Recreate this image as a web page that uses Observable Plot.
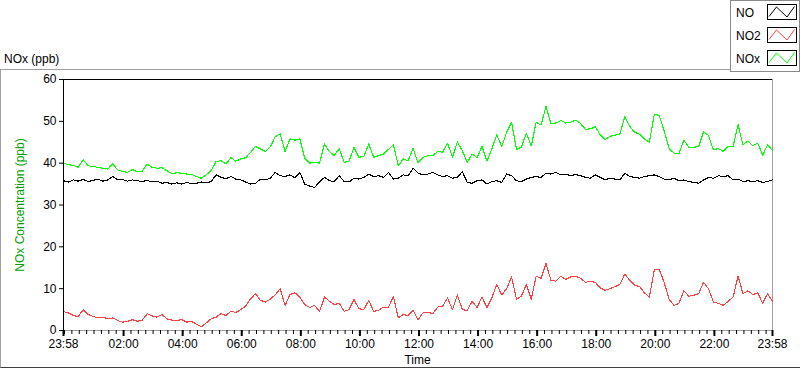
<!DOCTYPE html>
<html><head><meta charset="utf-8">
<script src="https://cdn.jsdelivr.net/npm/d3@7"></script>
<script src="https://cdn.jsdelivr.net/npm/@observablehq/plot@0.6"></script>
<style>
body{margin:0;background:#fff;font-family:"Liberation Sans",Arial,sans-serif;color:#000;}
#wrap{position:relative;width:800px;height:369px;overflow:hidden;background:#fff;}
#frame{position:absolute;left:0;top:69px;width:800px;height:299px;border-left:1px solid #a0a0a0;border-top:1px solid #a0a0a0;border-bottom:1px solid #404040;box-sizing:border-box;}
#chart{position:absolute;left:0;top:0;}
#title{position:absolute;left:4px;top:52px;font-size:12px;line-height:14px;}
#xlabel{position:absolute;left:0;width:835px;text-align:center;top:353px;font-size:12px;line-height:14px;}
#ylabel{position:absolute;left:20px;top:205px;font-size:12px;line-height:14px;color:#00a000;white-space:nowrap;transform:translate(-50%,-50%) rotate(-90deg);}
#legend{position:absolute;left:730px;top:0;width:70px;height:72px;border:1px solid #8a8a8a;background:#fff;box-sizing:border-box;}
.lrow{position:absolute;left:5px;font-size:12px;line-height:14px;}
.lsw{position:absolute;left:36px;}
</style></head>
<body>
<div id="wrap">
<div id="frame"></div>
<div id="chart"></div>
<div id="title">NOx (ppb)</div>
<div id="xlabel">Time</div>
<div id="ylabel">NOx Concentration (ppb)</div>
<div id="legend"></div>
</div>
<script>
// ---- data (10-minute readings starting 23:58) ----
const startTime = "2020-01-01T23:58:00Z";
const stepMinutes = 10;
const NO = [35.8,35.5,36.0,35.7,36.1,35.6,35.9,36.2,35.7,36.0,
36.8,36.0,36.1,35.7,36.0,35.8,35.6,35.9,35.5,35.7,
35.2,35.4,35.0,35.3,35.0,35.4,35.1,35.2,35.5,35.3,
35.6,37.2,36.6,36.3,36.8,36.2,36.0,35.5,35.0,35.2,
36.2,36.0,36.4,37.8,37.0,36.8,37.2,36.5,37.8,35.0,
34.5,34.2,35.5,36.6,35.8,35.6,37.0,35.6,35.5,36.4,
36.2,36.6,37.4,36.8,37.0,36.6,37.8,36.2,36.4,37.2,
37.0,38.8,37.6,37.2,37.4,37.8,37.2,36.8,37.0,36.4,
36.6,38.0,35.4,35.2,35.8,36.0,35.0,35.6,35.8,35.4,
37.4,37.0,35.8,35.6,36.2,36.6,36.8,36.6,37.6,37.4,
37.8,37.2,37.4,37.0,37.3,37.0,36.6,36.4,37.2,36.6,
36.0,36.4,36.2,36.0,37.6,36.8,36.6,36.4,36.8,37.0,
37.2,36.8,36.2,36.0,36.4,35.8,36.0,35.6,35.4,35.2,
36.0,36.6,36.4,37.0,36.8,37.0,36.0,36.2,35.6,35.8,
35.6,35.8,35.4,35.6,36.0];
const NO2 = [4.5,4.2,3.6,3.3,5.0,3.8,3.4,3.0,3.2,2.8,
3.0,2.4,2.0,2.2,2.6,2.2,2.5,4.0,3.5,3.2,
3.8,2.8,2.5,2.4,2.6,2.0,2.2,1.5,0.9,1.8,
2.8,3.2,4.0,3.6,4.6,4.3,5.0,5.8,7.6,8.8,
7.2,6.8,7.5,8.5,10.0,6.0,8.6,9.0,8.0,6.2,
5.5,6.0,4.5,8.0,7.0,6.2,6.5,4.6,5.0,7.4,
5.2,5.0,7.2,4.6,4.8,5.6,5.5,8.2,3.0,3.8,
3.6,4.8,2.5,4.2,4.4,4.0,5.6,5.8,7.8,5.0,
8.5,5.0,4.8,7.0,5.5,8.0,5.5,7.8,11.0,8.5,
10.0,12.8,7.5,8.2,11.0,7.5,13.0,12.5,16.0,12.0,
11.8,13.0,12.2,12.8,13.0,12.5,11.5,11.8,11.5,10.2,
9.6,10.0,10.5,11.0,13.5,12.0,10.8,10.5,9.0,8.0,
14.5,14.6,11.5,7.5,6.0,6.5,9.5,8.2,8.4,8.8,
11.5,10.0,6.8,6.5,6.0,7.0,8.0,13.0,8.8,9.5,
8.6,9.0,6.5,8.8,7.0];
const NOx = [40.0,39.6,39.5,39.0,40.8,39.4,39.2,39.0,38.8,38.6,
39.8,38.4,38.0,37.8,38.5,37.9,38.1,39.8,39.0,38.8,
38.9,38.2,37.5,37.7,37.6,37.4,37.3,36.8,36.4,37.2,
38.3,40.4,40.6,39.8,41.3,40.5,41.0,41.3,42.6,44.0,
43.4,42.8,43.9,46.3,47.0,42.8,45.8,45.5,45.8,41.2,
40.0,40.2,40.0,44.6,42.8,41.8,43.5,40.2,40.5,43.8,
41.4,41.6,44.6,41.4,41.8,42.2,43.3,44.4,39.4,41.0,
40.6,43.6,40.1,41.4,41.8,41.8,42.8,42.6,44.8,41.4,
45.1,43.0,40.2,42.2,41.3,44.0,40.5,43.4,46.8,43.9,
47.4,49.8,43.3,43.8,47.2,44.1,49.8,49.1,53.6,49.4,
49.6,50.2,49.6,49.8,50.3,49.5,48.1,48.2,48.7,46.8,
45.6,46.4,46.7,47.0,51.1,48.8,47.4,46.9,45.8,45.0,
51.7,51.4,47.7,43.5,42.4,42.3,45.5,43.8,43.8,44.0,
47.5,46.6,43.2,43.5,42.8,44.0,44.0,49.2,44.4,45.3,
44.2,44.8,41.9,44.4,43.0];
const seriesNames = ["NO", "NO2", "NOx"];
const seriesColors = ["#000000", "#ff4040", "#00ff00"];
const xTickLabels = ["23:58","02:00","04:00","06:00","08:00","10:00","12:00","14:00","16:00","18:00","20:00","22:00","23:58"];
const yTickValues = [0, 10, 20, 30, 40, 50, 60];
const minorTickMinutes = 15;

// ---- build table ----
const start = new Date(startTime);
const end = new Date(+start + 24 * 3600 * 1000);
const seriesValues = [NO, NO2, NOx];
const rows = [];
seriesNames.forEach((name, s) => {
  seriesValues[s].forEach((v, i) => {
    rows.push({series: name, time: new Date(+start + i * stepMinutes * 60000), value: v});
  });
});
const majorTicks = xTickLabels.map((lab, k) => {
  if (k === 0) return start;
  if (k === xTickLabels.length - 1) return end;
  const [h, m] = lab.split(":").map(Number);
  return new Date(Date.UTC(2020, 0, 2, h, m));
});
const minorTicks = d3.utcMinute.every(minorTickMinutes).range(start, end);
const fmt = d3.utcFormat("%H:%M");
const lineOpts = {x: "time", y: "value", stroke: "series", strokeWidth: 1.1, style: {shapeRendering: "crispEdges"}};

const chart = Plot.plot({
  width: 800, height: 369,
  marginLeft: 63, marginRight: 28, marginTop: 79, marginBottom: 39,
  style: {fontFamily: "Liberation Sans, Arial, sans-serif", fontSize: "12px", background: "transparent", color: "#000"},
  x: {type: "utc", domain: [start, end]},
  y: {domain: [0, 60]},
  color: {domain: seriesNames, range: seriesColors},
  marks: [
    Plot.ruleY([0], {stroke: "#a0a0a0"}),
    Plot.ruleX([end], {stroke: "#a0a0a0"}),
    Plot.lineY(rows.filter(d => d.series === "NO2"), lineOpts),
    Plot.lineY(rows.filter(d => d.series === "NO"), lineOpts),
    Plot.lineY(rows.filter(d => d.series === "NOx"), lineOpts),
    Plot.ruleY([60], {stroke: "#000"}),
    Plot.ruleX([start], {stroke: "#000"}),
    Plot.axisY(yTickValues, {tickSize: 4, tickPadding: 3, label: null, fontSize: 12, stroke: "#000"}),
    Plot.axisX(minorTicks, {tickSize: 4, tickFormat: () => "", label: null, stroke: "#000"}),
    Plot.axisX(majorTicks, {tickSize: 6, strokeWidth: 2, tickPadding: 3, tickFormat: fmt, label: null, fontSize: 12, stroke: "#000"})
  ]
});
chart.querySelectorAll('[aria-label="line"] path').forEach(p => p.setAttribute("shape-rendering", "crispEdges"));
document.getElementById("chart").appendChild(chart);

// ---- legend ----
const legend = document.getElementById("legend");
seriesNames.forEach((name, k) => {
  const top = 4 + k * 23;
  const lab = document.createElement("div");
  lab.className = "lrow";
  lab.style.top = (top + 1) + "px";
  lab.textContent = name;
  legend.appendChild(lab);
  const sw = d3.create("svg").attr("class", "lsw").attr("width", 31).attr("height", 17)
    .style("top", (top - 1) + "px");
  sw.append("rect").attr("x", 0.5).attr("y", 0.5).attr("width", 29).attr("height", 15)
    .attr("fill", "#fff").attr("stroke", "#000");
  sw.append("polyline").attr("points", "2,12.5 9.5,3 20,13 27.5,2.5")
    .attr("fill", "none").attr("stroke", seriesColors[k]).attr("stroke-width", 1);
  legend.appendChild(sw.node());
});
</script>
</body></html>
